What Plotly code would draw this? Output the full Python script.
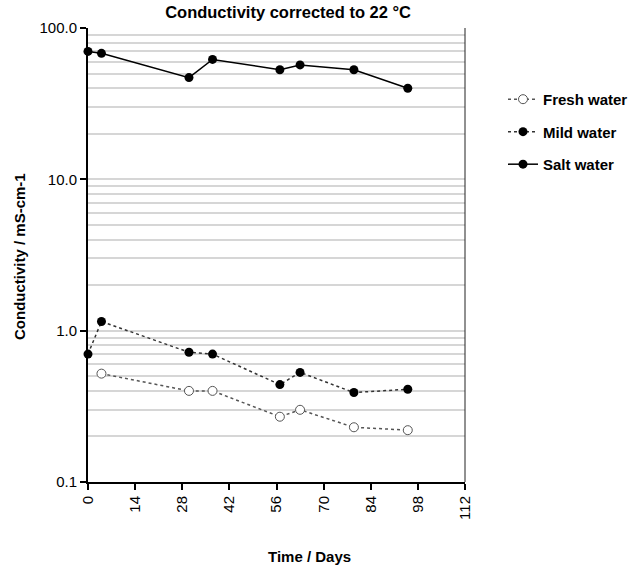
import plotly.graph_objects as go

days_salt = [0, 4, 30, 37, 57, 63, 79, 95]
salt = [70, 68, 47, 62, 53, 57, 53, 40]
days_mild = [0, 4, 30, 37, 57, 63, 79, 95]
mild = [0.70, 1.15, 0.72, 0.70, 0.44, 0.53, 0.39, 0.41]
days_fresh = [4, 30, 37, 57, 63, 79, 95]
fresh = [0.52, 0.40, 0.40, 0.27, 0.30, 0.23, 0.22]

x_ticks = [0, 14, 28, 42, 56, 70, 84, 98, 112]
y_ticks = [0.1, 1, 10, 100]
y_ticktext = ["0.1", "1.0", "10.0", "100.0"]
minor_vals = [m * d for d in (0.1, 1, 10) for m in range(2, 10)]

FONT = "Liberation Sans, Arial, sans-serif"
PW = 636 - 88  # paper width in px

fig = go.Figure()
fig.add_trace(go.Scatter(
    x=days_fresh, y=fresh, name="<b>Fresh water</b>", mode="lines+markers", legendgroup="f",
    line=dict(color="#555555", width=1.5, dash="dot"),
    marker=dict(symbol="circle", size=9, color="white", line=dict(color="#555555", width=1)),
    cliponaxis=False))
fig.add_trace(go.Scatter(
    x=days_mild, y=mild, name="<b>Mild water</b>", mode="lines+markers", legendgroup="m",
    line=dict(color="#333333", width=1.5, dash="dot"),
    marker=dict(symbol="circle", size=9, color="black"),
    cliponaxis=False))
fig.add_trace(go.Scatter(
    x=days_salt, y=salt, name="<b>Salt water</b>", mode="lines+markers", legendgroup="s",
    line=dict(color="black", width=1.5),
    marker=dict(symbol="circle", size=9, color="black"),
    cliponaxis=False))

fig.update_layout(
    width=636, height=567,
    margin=dict(l=88, r=0, t=28, b=85),
    paper_bgcolor="white", plot_bgcolor="white",
    font=dict(family=FONT, size=15, color="black"),
    title=dict(text="<b>Conductivity corrected to 22 °C</b>", x=0.453,
               xanchor="center", y=0.978, yanchor="middle", font=dict(size=16.5)),
    legend=dict(x=(503 - 88) / PW, y=0.879, xanchor="left", yanchor="top",
                font=dict(size=15, family=FONT), itemwidth=30,
                traceorder="grouped", tracegroupgap=10, bgcolor="rgba(0,0,0,0)"),
    showlegend=True,
)
fig.update_xaxes(
    domain=[0, 377 / PW],
    range=[0, 112], tickvals=x_ticks, tickangle=-90, automargin=False,
    showline=True, linecolor="black", linewidth=2,
    ticks="outside", ticklen=6, tickwidth=2, tickcolor="black",
    showgrid=False, zeroline=False,
    tickfont=dict(size=15),
)
fig.update_yaxes(
    type="log", range=[-1, 2], tickvals=y_ticks, ticktext=y_ticktext, automargin=False,
    showline=True, linecolor="black", linewidth=2,
    ticks="outside", ticklen=6, tickwidth=2, tickcolor="black",
    showgrid=True, gridcolor="#d6d6d6", gridwidth=1.5,
    minor=dict(tickvals=minor_vals, showgrid=True, gridcolor="#d6d6d6", gridwidth=1.5, ticks=""),
    zeroline=False,
    tickfont=dict(size=15),
)
fig.add_annotation(text="<b>Time / Days</b>", xref="paper", yref="paper",
                   x=(309 - 88) / PW, y=-(556 - 482) / 454, showarrow=False,
                   xanchor="center", yanchor="middle", font=dict(size=15))
fig.add_annotation(text="<b>Conductivity / mS-cm-1</b>", xref="paper", yref="paper",
                   x=-(88 - 19) / PW, y=(482 - 257) / 454, showarrow=False, textangle=-90,
                   xanchor="center", yanchor="middle", font=dict(size=15))
fig.add_shape(type="line", xref="x domain", yref="y domain", x0=1, x1=1, y0=0, y1=1,
              line=dict(color="#222222", width=1))

fig.write_html("out.html", config={"displayModeBar": False},
               post_script="document.body.style.margin='0';document.body.style.overflow='hidden';")
